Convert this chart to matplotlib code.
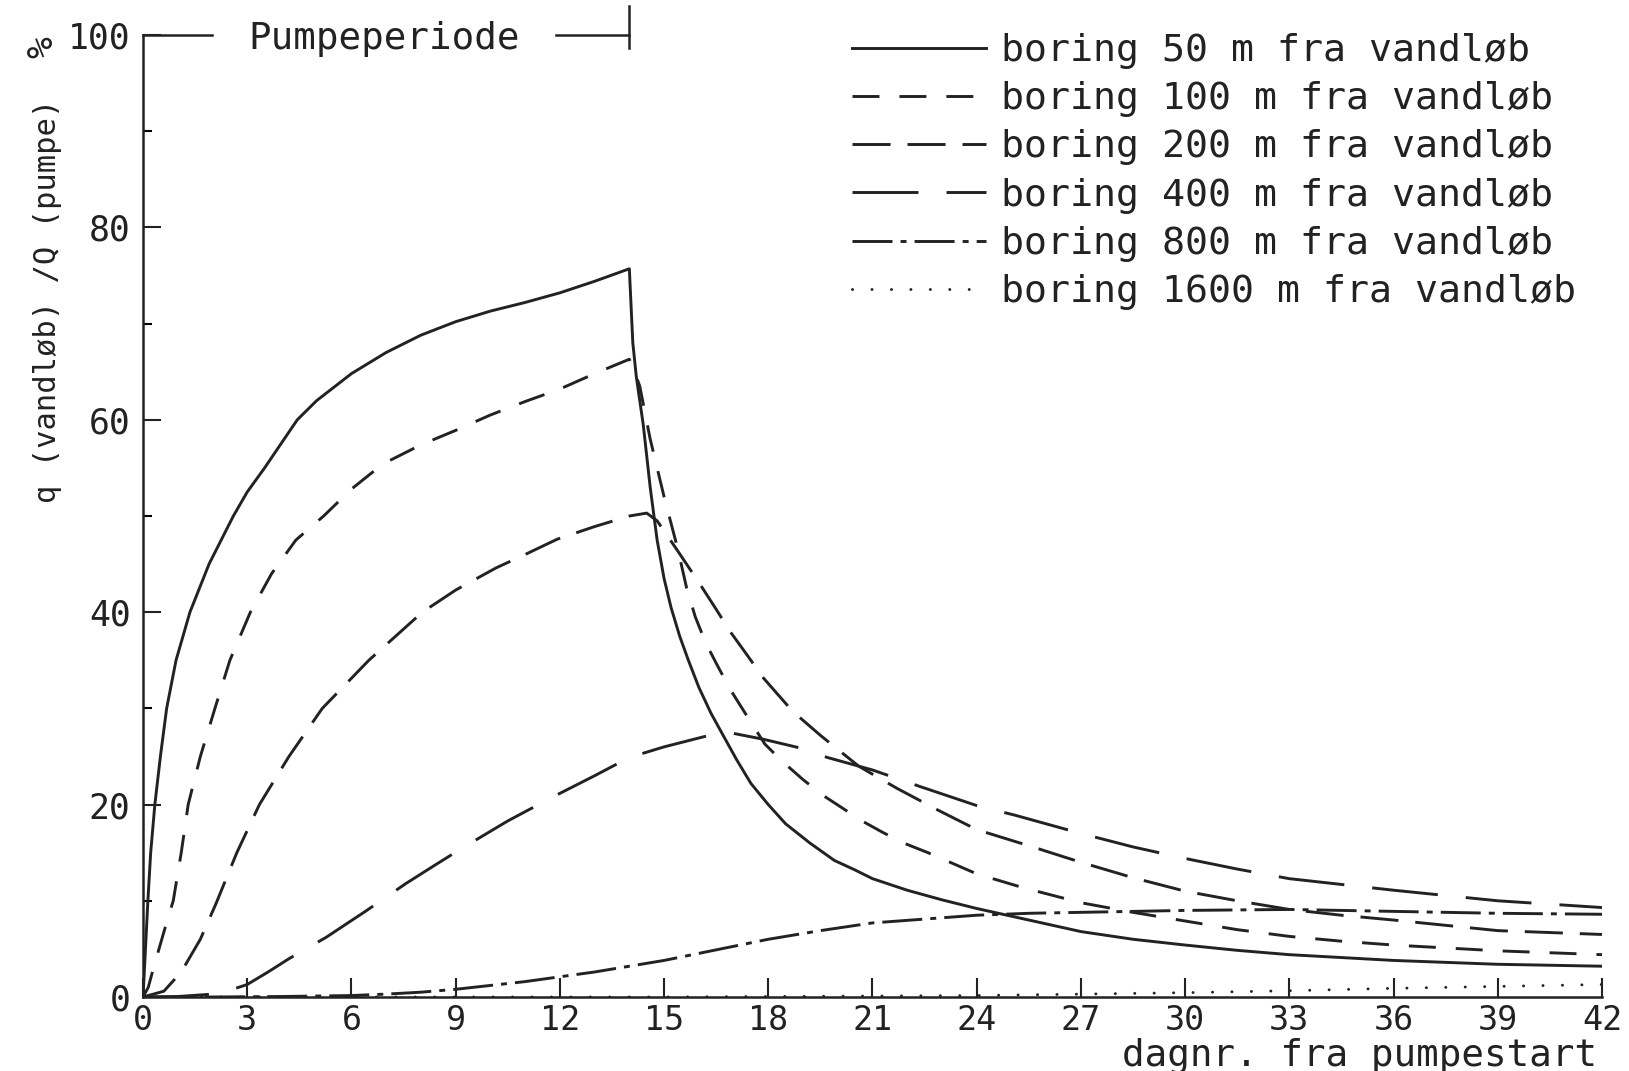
import numpy as np
import matplotlib
matplotlib.use('Agg')
from matplotlib import pyplot as plt

plt.rcParams['font.family'] = 'DejaVu Sans Mono'
plt.rcParams['lines.scale_dashes'] = False

ink = '#222222'

# boring 50 m
d50 = [0, 0.07, 0.14, 0.22, 0.34, 0.5, 0.68, 0.95, 1.35, 1.9, 2.6, 3.0, 3.5, 4.44, 5, 6, 7, 8,
       9, 10, 11, 12, 13, 14,
       14.1, 14.2, 14.4, 14.6, 14.8, 15.0, 15.2, 15.45, 15.7, 16.0, 16.35, 16.7, 17.1, 17.5,
       18.0, 18.5, 19.2, 19.9, 20.5, 21, 22, 23, 24, 25, 26, 27, 28.5, 30, 31.5, 33, 34.5,
       36, 39, 42]
q50 = [0, 5, 10, 15, 20, 25, 30, 35, 40, 45, 50, 52.5, 55, 60, 62, 64.8, 67, 68.8,
       70.2, 71.3, 72.2, 73.2, 74.4, 75.7,
       68, 64.5, 59.5, 53, 47.5, 43.5, 40.5, 37.5, 35, 32.2, 29.5, 27.2, 24.6, 22.2,
       20, 18.0, 16, 14.2, 13.2, 12.3, 11.1, 10.1, 9.2, 8.4, 7.6, 6.8, 6.0, 5.4, 4.85, 4.4, 4.1,
       3.8, 3.4, 3.2]

# boring 100 m
d100 = [0, 0.15, 0.3, 0.5, 0.7, 0.87, 1.1, 1.3, 1.65, 2.07, 2.5, 3.09, 3.7, 4.4, 5.2, 6, 6.9,
        8, 9, 10, 11, 12, 13, 14,
        14.15, 14.3, 14.6, 15.0, 15.4, 15.65, 15.9, 16.2, 16.5, 16.9, 17.3, 17.9, 18.4, 19,
        19.6, 20.15, 20.7, 21.3, 21.9, 22.6, 23.3, 24, 25.3, 27, 28.5, 30, 31.5, 33, 34.5,
        36, 39, 42]
q100 = [0, 1, 3, 5.5, 8, 10, 15, 20, 25, 30, 35, 40, 44, 47.5, 50, 52.8, 55.4,
        57.4, 58.9, 60.5, 61.9, 63.2, 64.8, 66.3,
        65, 63.5, 58, 52, 46.5, 42.5, 39.5, 36.8, 34.7, 32, 29.7, 26.3, 24.5, 22.6,
        20.9, 19.6, 18.3, 17.1, 16, 15.0, 13.9, 12.8, 11.4, 9.8, 8.8, 7.9, 7.0, 6.3, 5.8,
        5.4, 4.8, 4.4]

# boring 200 m
d200 = [0, 0.6, 0.9, 1.23, 1.65, 2.1, 2.7, 3.35, 4.2, 5.16, 6.5, 8.04, 9, 10.16, 11, 11.93,
        13, 14, 14.5, 14.8, 15.35, 16.0, 16.5, 16.9, 17.4, 17.85, 18.7, 19.5, 20.6, 21.7,
        22.9, 24, 25.7, 27, 28.5, 30, 31.5, 33, 34.5, 36, 39, 42]
q200 = [0, 0.6, 1.8, 3.4, 6, 9.7, 15, 20, 25, 30, 35, 40, 42.3, 44.6, 46, 47.6,
        48.9, 50.0, 50.3, 49.5, 46.6, 43.1, 40.3, 38.0, 35.5, 33.2, 29.7, 27.2, 24.0, 21.7,
        19.4, 17.4, 15.5, 14.0, 12.4, 11.0, 10.0, 9.1, 8.5, 8.0, 6.9, 6.5]

# boring 400 m
d400 = [0, 1, 2, 2.5, 3, 3.6, 4.21, 5.27, 6.4, 7.57, 8.4, 9.2, 10.5, 11.8, 13, 14, 15, 16.3,
        17, 17.85, 18.9, 19.7, 21, 22.35, 24, 25.1, 27, 28.5, 30, 31.5, 33, 34.5, 36, 39, 42]
q400 = [0, 0.05, 0.3, 0.7, 1.3, 2.6, 4.0, 6.2, 8.9, 11.8, 13.7, 15.5, 18.3, 20.8, 23, 24.9,
        26.0, 27.2, 27.4, 26.8, 25.9, 24.9, 23.6, 21.9, 19.9, 18.9, 17.0, 15.6, 14.4, 13.3,
        12.3, 11.7, 11.1, 10.0, 9.3]

# boring 800 m
d800 = [0, 2, 4, 6, 7, 8, 9, 10, 11, 12, 13, 14, 15, 16.5, 18, 19.5, 21, 22.5, 24, 25.5, 27,
        30, 33, 36, 39, 42]
q800 = [0, 0, 0.05, 0.15, 0.3, 0.5, 0.8, 1.2, 1.6, 2.1, 2.6, 3.2, 3.8, 4.9, 6.0, 6.9, 7.7,
        8.1, 8.5, 8.7, 8.8, 9.0, 9.1, 8.9, 8.7, 8.6]

# boring 1600 m
d1600 = [0, 15, 18, 21, 24, 27, 30, 33, 36, 39, 42]
q1600 = [0, 0, 0.05, 0.1, 0.15, 0.3, 0.45, 0.65, 0.9, 1.1, 1.3]

labels = ['boring 50 m fra vandløb', 'boring 100 m fra vandløb', 'boring 200 m fra vandløb',
          'boring 400 m fra vandløb', 'boring 800 m fra vandløb', 'boring 1600 m fra vandløb']

pump_end = 14
xticks = list(range(0, 43, 3))
yticks = [0, 20, 40, 60, 80, 100]

fig = plt.figure(figsize=(16.29, 10.71), dpi=100)
ax = fig.add_axes([0.0878, 0.0691, 0.8956, 0.8982])

lw = 2.1
ax.plot(d50, q50, color=ink, lw=lw, label=labels[0])
ax.plot(d100, q100, color=ink, lw=lw, dashes=(19.4, 14.4), label=labels[1])
ax.plot(d200, q200, color=ink, lw=lw, dashes=(27.4, 12.2), label=labels[2])
ax.plot(d400, q400, color=ink, lw=lw, dashes=(47.5, 20.2), label=labels[3])
ax.plot(d800, q800, color=ink, lw=lw, dashes=(28.8, 5.8, 4.3, 5.8), label=labels[4])
ax.plot(d1600, q1600, color=ink, lw=lw, dashes=(0.1, 13.9), dash_capstyle='round', label=labels[5])

ax.set_xlim(0, 42)
ax.set_ylim(0, 100)
ax.spines['top'].set_visible(False)
ax.spines['right'].set_visible(False)
for s in ['left', 'bottom']:
    ax.spines[s].set_linewidth(1.8)
    ax.spines[s].set_color(ink)

ax.set_xticks(xticks)
ax.set_yticks(yticks)
ax.set_yticks(range(10, 100, 20), minor=True)
ax.tick_params(axis='x', direction='in', length=14, width=1.5, pad=5, labelsize=24, colors=ink)
ax.tick_params(axis='y', direction='in', length=13, width=1.5, pad=9, labelsize=25, colors=ink)
ax.tick_params(axis='y', which='minor', direction='in', length=6.5, width=1.5)

# pumpeperiode bracket
ax.plot([0, 2.0], [100, 100], color=ink, lw=1.8, clip_on=False)
ax.plot([11.9, pump_end], [100, 100], color=ink, lw=1.8, clip_on=False)
ax.plot([pump_end, pump_end], [98.6, 103.0], color=ink, lw=1.8, clip_on=False)
ax.text(6.95, 99.6, 'Pumpeperiode', ha='center', va='center', fontsize=27, color=ink)

fig.text(0.0289, 0.719, 'q (vandløb) /Q (pumpe)', rotation=90, ha='center', va='center',
         fontsize=22, color=ink)
fig.text(0.026, 1 - 47 / 1071, '%', rotation=90, ha='center', va='center', fontsize=26, color=ink)
fig.text(1597 / 1629, 1 - 1056 / 1071, 'dagnr. fra pumpestart', ha='right', va='center',
         fontsize=27, color=ink)

leg = ax.legend(loc='upper left', bbox_to_anchor=(852 / 1629, 1 - 33 / 1071),
                bbox_transform=fig.transFigure, frameon=False, fontsize=27.5,
                handlelength=3.5, handletextpad=0.4, labelspacing=0.32,
                borderpad=0, borderaxespad=0)
for t in leg.get_texts():
    t.set_color(ink)

fig.savefig('out.png', dpi=100)
